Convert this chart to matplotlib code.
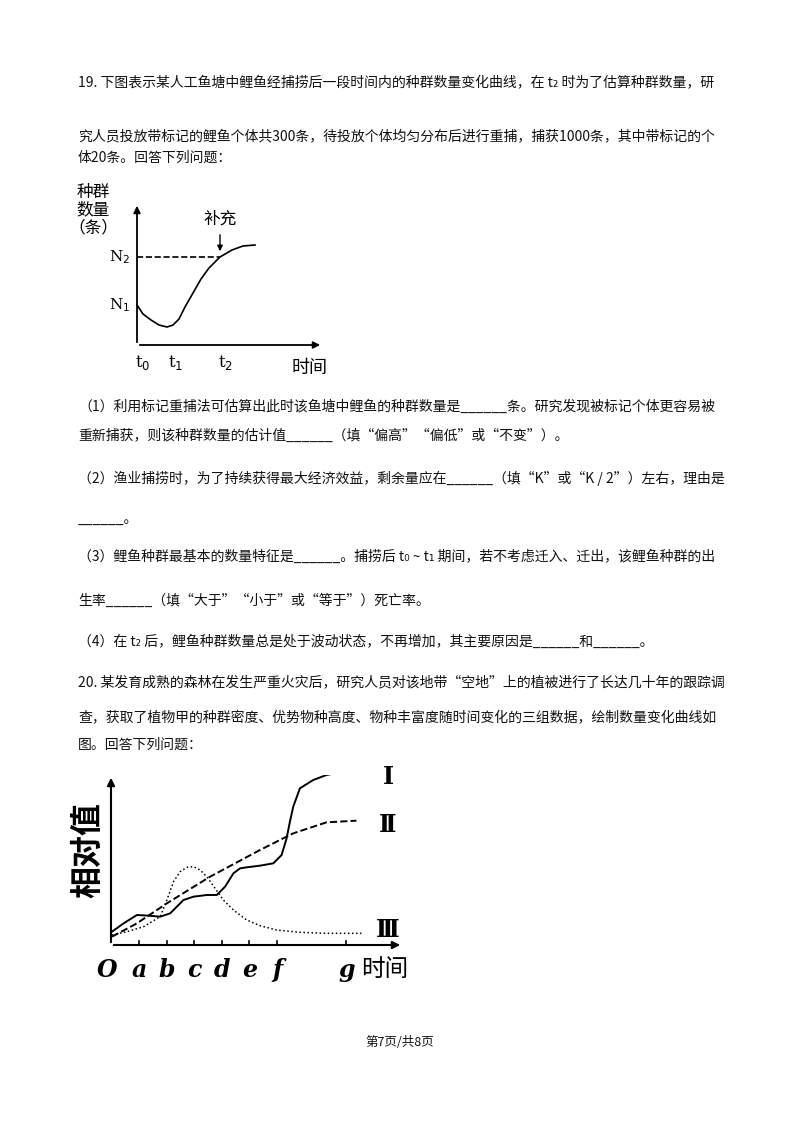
import matplotlib
matplotlib.use("Agg")
import matplotlib.pyplot as plt

plt.rcParams['font.family'] = ['Noto Sans CJK SC', 'DejaVu Sans']
W, H = 800, 1132
fig = plt.figure(figsize=(8, 11.32), dpi=100)
page = fig.add_axes([0, 0, 1, 1]); page.set_xlim(0, W); page.set_ylim(H, 0); page.axis('off')

# ---- data: diagram 1 (population after fishing)
pop_x = [0, 6, 14, 22, 30, 36, 42, 48, 56, 64, 72, 83, 95, 106, 118]
pop_y = [40, 31, 25, 20, 18, 20, 26, 38, 52, 66, 77, 88, 95, 99, 100]
n2_level = 88
n1_level = 40
t_ticks = [0, 33, 83]
t_labels = ['t$_0$', 't$_1$', 't$_2$']

# ---- data: diagram 2 (succession)
I_x = [155, 190, 230, 265, 300, 330, 350, 370, 400, 440, 470, 495, 520, 540, 560, 600, 640, 665, 680, 690, 700, 720, 760, 800, 850, 930]
I_y = [40, 65, 90, 88, 85, 95, 115, 135, 145, 150, 150, 175, 215, 230, 233, 238, 245, 270, 320, 370, 415, 470, 495, 510, 520, 523]
II_x = [155, 230, 320, 450, 600, 700, 800, 890]
II_y = [25, 65, 125, 205, 285, 335, 368, 373]
III_x = [155, 200, 250, 300, 320, 340, 360, 380, 400, 420, 440, 465, 490, 520, 560, 600, 650, 720, 800, 905]
III_y = [30, 40, 55, 85, 135, 190, 220, 233, 235, 225, 205, 170, 135, 105, 75, 58, 45, 38, 35, 35]
tick_pos = [237, 320, 403, 485, 568, 652, 860]
tick_lab = ['O', 'a', 'b', 'c', 'd', 'e', 'f', 'g']

fs = 10
lines = [
    (78, 83, "19. 下图表示某人工鱼塘中鲤鱼经捕捞后一段时间内的种群数量变化曲线，在 t₂ 时为了估算种群数量，研"),
    (78, 136, "究人员投放带标记的鲤鱼个体共300条，待投放个体均匀分布后进行重捕，捕获1000条，其中带标记的个"),
    (78, 158, "体20条。回答下列问题："),
    (78, 407, "（1）利用标记重捕法可估算出此时该鱼塘中鲤鱼的种群数量是______条。研究发现被标记个体更容易被"),
    (78, 436, "重新捕获，则该种群数量的估计值______（填“偏高”“偏低”或“不变”）。"),
    (78, 478, "（2）渔业捕捞时，为了持续获得最大经济效益，剩余量应在______（填“K”或“K / 2”）左右，理由是"),
    (78, 519, "______。"),
    (78, 557, "（3）鲤鱼种群最基本的数量特征是______。捕捞后 t₀ ~ t₁ 期间，若不考虑迁入、迁出，该鲤鱼种群的出"),
    (78, 601, "生率______（填“大于”“小于”或“等于”）死亡率。"),
    (78, 642, "（4）在 t₂ 后，鲤鱼种群数量总是处于波动状态，不再增加，其主要原因是______和______。"),
    (78, 682, "20. 某发育成熟的森林在发生严重火灾后，研究人员对该地带“空地”上的植被进行了长达几十年的跟踪调"),
    (78, 718, "查，获取了植物甲的种群密度、优势物种高度、物种丰富度随时间变化的三组数据，绘制数量变化曲线如"),
    (78, 745, "图。回答下列问题："),
]
for x, y, s in lines:
    page.text(x, y, s, fontsize=fs, va='center', ha='left', color='#111')
page.text(400, 1043, "第7页/共8页", fontsize=9, ha='center', va='center', color='#111')

def px_axes(l, r, b, t):
    return fig.add_axes([l / W, 1 - b / H, (r - l) / W, (b - t) / H])

# ---- Diagram 1
a1 = px_axes(137, 323, 345, 203)
a1.set_xlim(0, 186); a1.set_ylim(0, 142); a1.axis('off')
a1.annotate('', xy=(186, 0), xytext=(0, 0), arrowprops=dict(arrowstyle='-|>', lw=1.3, color='k', mutation_scale=10))
a1.annotate('', xy=(0, 142), xytext=(0, 0), arrowprops=dict(arrowstyle='-|>', lw=1.3, color='k', mutation_scale=10))
a1.plot(pop_x, pop_y, color='k', lw=1.2)
a1.plot([0, t_ticks[2]], [n2_level, n2_level], 'k--', lw=1.2)
a1.annotate('', xy=(t_ticks[2], n2_level + 3), xytext=(t_ticks[2], n2_level + 25),
            arrowprops=dict(arrowstyle='-|>', lw=1, color='k', mutation_scale=8))
a1.text(t_ticks[2], n2_level + 38, '补充', fontsize=12, ha='center', va='center')
for tx, tl in zip(t_ticks, t_labels):
    a1.text(tx + 6, -18, tl, fontsize=12, ha='center', va='center', family='DejaVu Serif')
a1.text(-17, n2_level, 'N$_2$', fontsize=11, ha='center', va='center', family='DejaVu Serif')
a1.text(-17, n1_level, 'N$_1$', fontsize=11, ha='center', va='center', family='DejaVu Serif')
page.text(310, 368, '时间', fontsize=13, ha='center', va='center')
page.text(93, 193, '种群', fontsize=12, ha='center', va='center')
page.text(93, 210, '数量', fontsize=12, ha='center', va='center')
page.text(93, 228, '（条）', fontsize=12, ha='center', va='center')

# ---- Diagram 2
a2 = px_axes(111, 403, 945, 775)
a2.set_xlim(152, 1030); a2.set_ylim(0, 510); a2.axis('off')
a2.annotate('', xy=(1030, 0), xytext=(152, 0), arrowprops=dict(arrowstyle='-|>', lw=1.5, color='k', mutation_scale=11))
a2.annotate('', xy=(152, 510), xytext=(152, 0), arrowprops=dict(arrowstyle='-|>', lw=1.5, color='k', mutation_scale=11))
for tp in tick_pos:
    a2.plot([tp, tp], [0, 12], 'k', lw=1.2)
a2.plot(I_x, I_y, 'k-', lw=1.4)
a2.plot(II_x, II_y, 'k--', lw=1.4)
a2.plot(III_x, III_y, 'k:', lw=1.1)
for tp, tl in zip([152] + tick_pos, tick_lab):
    a2.text(tp - 12 if tl == 'O' else tp, -75, tl, fontsize=17, fontweight='bold', style='italic',
            ha='center', va='center', family='DejaVu Serif')
page.text(385, 970, '时间', fontsize=17, ha='center', va='center')
page.text(88, 850, '相对值', fontsize=23, fontweight='heavy', rotation=90, ha='center', va='center')
page.text(388, 777, 'Ⅰ', fontsize=17, fontweight='bold', ha='center', va='center', family='DejaVu Serif')
page.text(388, 825, 'Ⅱ', fontsize=17, fontweight='bold', ha='center', va='center', family='DejaVu Serif')
page.text(388, 930, 'Ⅲ', fontsize=17, fontweight='bold', ha='center', va='center', family='DejaVu Serif')

fig.savefig('out.png', dpi=100)
